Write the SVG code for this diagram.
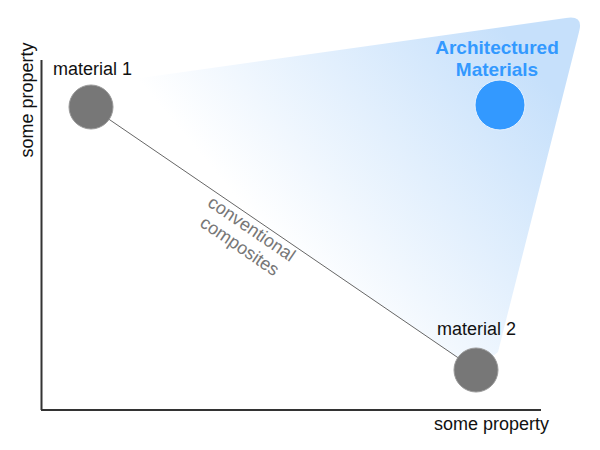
<svg xmlns="http://www.w3.org/2000/svg" width="600" height="450" viewBox="0 0 600 450">
<style>
.lbl{font-family:"Liberation Sans",Arial,sans-serif;font-size:18px;fill:#111}
.gray{fill:#777;stroke:#999;stroke-width:1}
</style>
<defs>
<linearGradient id="g" gradientUnits="userSpaceOnUse" x1="280" y1="250" x2="520" y2="50">
<stop offset="0" stop-color="#ffffff"/>
<stop offset="1" stop-color="#c6e0fb"/>
</linearGradient>
</defs>
<rect width="600" height="450" fill="#fff"/>
<g id="region">
<path d="M91 85 L566 18 Q584 15 579 32 L498 352 L476 370 L91 107 Z" fill="url(#g)"/>
</g>
<g id="axes" stroke="#333" stroke-width="2" fill="none">
<line x1="41.5" y1="60" x2="41.5" y2="410"/>
<line x1="41" y1="410" x2="541" y2="410"/>
</g>
<g id="connectors">
<line x1="91" y1="107" x2="476" y2="370" stroke="#666" stroke-width="1"/>
</g>
<g id="conventional">
<text class="lbl" style="fill:#777" text-anchor="middle" transform="translate(246,237) rotate(34.3)"><tspan x="0" y="-4">conventional</tspan><tspan x="0" y="17">composites</tspan></text>
</g>
<g id="material1">
<circle class="gray" cx="91" cy="107" r="22"/>
<text class="lbl" x="53" y="75">material 1</text>
</g>
<g id="material2">
<circle class="gray" cx="476" cy="370" r="22"/>
<text class="lbl" x="437" y="335">material 2</text>
</g>
<g id="architectured">
<circle cx="500" cy="105" r="25" fill="#3399ff" stroke="#e6f2ff" stroke-width="1"/>
<text class="lbl" style="fill:#3399ff;font-weight:bold;font-size:19px" text-anchor="middle"><tspan x="497" y="54">Architectured</tspan><tspan x="497" y="76">Materials</tspan></text>
</g>
<g id="ylabel">
<text class="lbl" text-anchor="middle" transform="translate(33,100) rotate(-90)">some property</text>
</g>
<g id="xlabel">
<text class="lbl" x="434" y="430">some property</text>
</g>
</svg>
